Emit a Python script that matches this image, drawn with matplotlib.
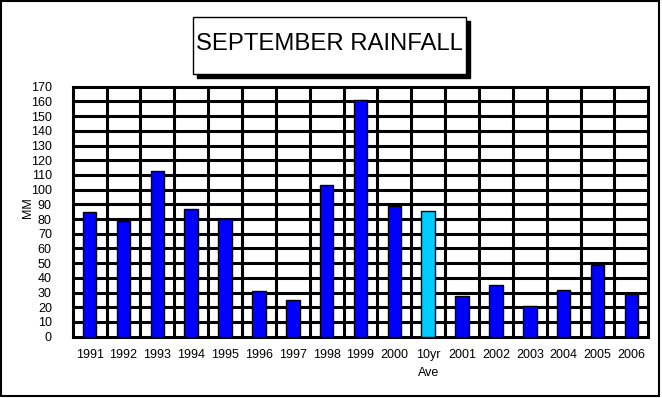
import matplotlib.pyplot as plt
from matplotlib.patches import Rectangle

# datos de lluvia de septiembre (mm)
categorias = ['1991', '1992', '1993', '1994', '1995', '1996', '1997', '1998', '1999',
              '2000', '10yr\nAve', '2001', '2002', '2003', '2004', '2005', '2006']
lluvia_mm = [85, 79, 113, 87, 80, 31, 25, 103, 161, 89, 85.5, 28, 35, 21, 32, 49, 29]
colores = ['#0000ff'] * 10 + ['#00ccff'] + ['#0000ff'] * 6

plt.rcParams['font.family'] = ['Liberation Sans', 'DejaVu Sans']

W, H = 662, 398
fig = plt.figure(figsize=(W / 100, H / 100), dpi=100)

# marco exterior
fig.patches.append(Rectangle((1 / W, 2 / H), 657.5 / W, 395 / H, transform=fig.transFigure,
                             fill=False, edgecolor='black', linewidth=1.5))

# caja del titulo con sombra
bx, by, bw, bh = 193, 17, 273, 57
fig.patches.append(Rectangle(((bx + 4) / W, (H - by - bh - 4) / H), bw / W, bh / H,
                             transform=fig.transFigure, facecolor='black', edgecolor='black'))
fig.patches.append(Rectangle((bx / W, (H - by - bh) / H), bw / W, bh / H,
                             transform=fig.transFigure, facecolor='white', edgecolor='black',
                             linewidth=1))
fig.text((bx + bw / 2) / W, (H - by - bh / 2 + 1) / H, 'SEPTEMBER RAINFALL',
         ha='center', va='center', fontsize=17.2)

ax = fig.add_axes([72.7 / W, (H - 336.7) / H, 575.6 / W, 250 / H])
x = list(range(len(categorias)))
ax.bar(x, lluvia_mm, width=0.4, color=colores, edgecolor='black', linewidth=1, zorder=3)

ax.set_xlim(-0.5, len(categorias) - 0.5)
ax.set_ylim(0, 170)
ax.set_yticks(range(0, 171, 10))
ax.set_xticks(x)
ax.set_xticklabels(categorias, linespacing=1.6)
ax.tick_params(axis='y', length=0, pad=15, labelsize=9)
ax.tick_params(axis='x', direction='in', length=3, width=1, pad=9, labelsize=9)

# rejilla: horizontales cada 10 y verticales entre categorias
for v in range(10, 170, 10):
    ax.axhline(v, color='black', linewidth=2.2, zorder=1)
for b in range(1, len(categorias)):
    ax.axvline(b - 0.5, color='black', linewidth=2.2, zorder=1)
for s in ax.spines.values():
    s.set_linewidth(2.2)

ax.set_ylabel('MM', fontsize=9)
ax.yaxis.set_label_coords((34 - 72.7) / 575.6, (336.7 - 208) / 250)

fig.savefig('out.png', dpi=100)
